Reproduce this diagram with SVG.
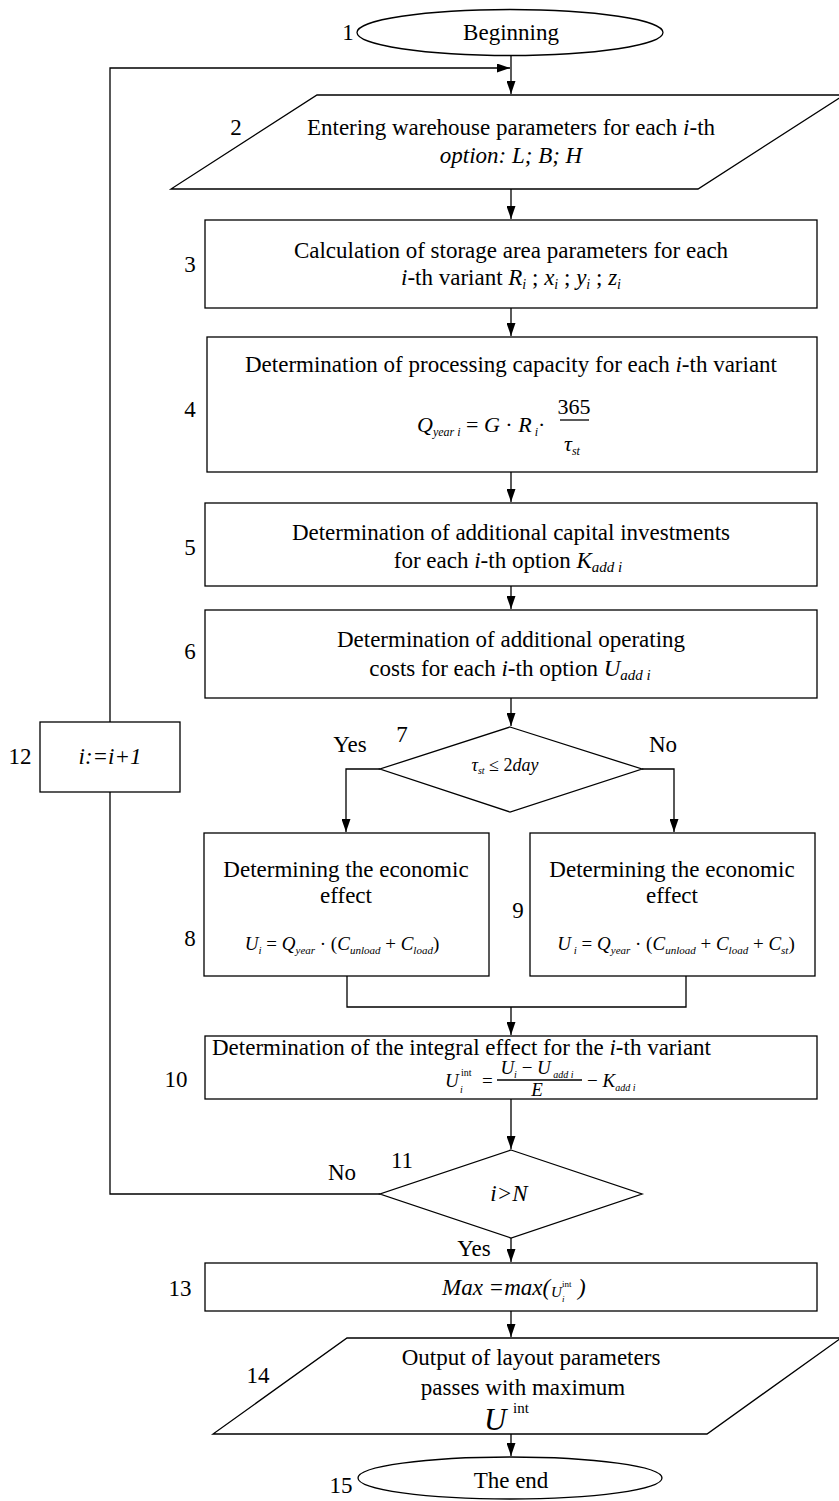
<svg xmlns="http://www.w3.org/2000/svg" width="839" height="1501" viewBox="0 0 839 1501" font-family="'Liberation Serif','Times New Roman',serif" font-size="23">
<style>
.s{fill:#fff;stroke:#000;stroke-width:1.3}
.c{fill:none;stroke:#000;stroke-width:1.3}
text{font-family:"Liberation Serif","Times New Roman",serif;fill:#000}
.m{text-anchor:middle}
.i{font-style:italic}
.f{font-style:italic}
.n{font-style:normal}
.sb{font-style:italic}
</style>
<defs>
<marker id="a" viewBox="0 0 13 9" refX="13" refY="4.5" markerWidth="13" markerHeight="9" markerUnits="userSpaceOnUse" orient="auto"><path d="M0,0 L13,4.5 L0,9 Z" fill="#000"/></marker>
</defs>
<g id="connectors">
<path class="c" d="M511,56 V94" marker-end="url(#a)"/>
<path class="c" d="M110,722 V68 H510" marker-end="url(#a)"/>
<path class="c" d="M511,189 V219" marker-end="url(#a)"/>
<path class="c" d="M511,308 V336" marker-end="url(#a)"/>
<path class="c" d="M511,472 V502" marker-end="url(#a)"/>
<path class="c" d="M511,586 V609" marker-end="url(#a)"/>
<path class="c" d="M511,698 V726" marker-end="url(#a)"/>
<path class="c" d="M380,769 H346 V832" marker-end="url(#a)"/>
<path class="c" d="M642,769 H674 V832" marker-end="url(#a)"/>
<path class="c" d="M347,976 V1007 H686 V976"/>
<path class="c" d="M511,1007 V1035" marker-end="url(#a)"/>
<path class="c" d="M511,1099 V1149" marker-end="url(#a)"/>
<path class="c" d="M380,1194 H110 V792"/>
<path class="c" d="M511,1238 V1262" marker-end="url(#a)"/>
<path class="c" d="M511,1311 V1337" marker-end="url(#a)"/>
<path class="c" d="M511,1434 V1456" marker-end="url(#a)"/>
<text x="350" y="752" class="m">Yes</text>
<text x="663" y="752" class="m">No</text>
<text x="342" y="1180" class="m">No</text>
<text x="474" y="1256" class="m">Yes</text>
</g>
<g id="n1">
<ellipse class="s" cx="510" cy="32.5" rx="153" ry="23"/>
<text x="511" y="40" class="m">Beginning</text>
<text x="348" y="40" class="m">1</text>
</g>
<g id="n2">
<polygon class="s" points="317,95 844,95 698,189 171,189"/>
<text x="236" y="135" class="m">2</text>
<text x="511" y="135" class="m">Entering warehouse parameters for each <tspan class="i">i</tspan>-th</text>
<text x="511" y="163" class="m i">option: L; B; H</text>
</g>
<g id="n3">
<rect class="s" x="205" y="220" width="612" height="88"/>
<text x="190" y="272" class="m">3</text>
<text x="511" y="258" class="m">Calculation of storage area parameters for each</text>
<text x="511" y="285" class="m"><tspan class="i">i</tspan>-th variant <tspan class="i">R</tspan><tspan dy="4" font-size="14" font-style="italic">i</tspan><tspan dy="-4"> ; </tspan><tspan class="i">x</tspan><tspan dy="4" font-size="14" font-style="italic">i</tspan><tspan dy="-4"> ; </tspan><tspan class="i">y</tspan><tspan dy="4" font-size="14" font-style="italic">i</tspan><tspan dy="-4"> ; </tspan><tspan class="i">z</tspan><tspan dy="4" font-size="14" font-style="italic">i</tspan></text>
</g>
<g id="n4">
<rect class="s" x="207" y="337" width="610" height="135"/>
<text x="190" y="417" class="m">4</text>
<text x="511" y="372" class="m">Determination of processing capacity for each <tspan class="i">i</tspan>-th variant</text>
<text x="417" y="432" class="f" font-size="22">Q<tspan font-size="12" font-style="italic" dy="4">year i</tspan><tspan dy="-4" class="n"> = </tspan>G<tspan class="n"> · </tspan>R<tspan font-size="12" font-style="italic" dy="4"> i</tspan><tspan dy="-4" class="n">·</tspan></text>
<text x="574" y="414" class="m" font-size="22">365</text>
<line class="c" x1="560" y1="420" x2="589" y2="420" stroke-width="1"/>
<text x="564" y="451" class="f" font-size="22">τ<tspan font-size="12" dy="4">st</tspan></text>
</g>
<g id="n5">
<rect class="s" x="205" y="503" width="612" height="83"/>
<text x="190" y="555" class="m">5</text>
<text x="511" y="540" class="m">Determination of additional capital investments</text>
<text x="508" y="568" class="m">for each <tspan class="i">i</tspan>-th option <tspan class="i">K</tspan><tspan dy="4" font-size="15" font-style="italic">add i</tspan></text>
</g>
<g id="n6">
<rect class="s" x="205" y="610" width="612" height="88"/>
<text x="190" y="659" class="m">6</text>
<text x="511" y="647" class="m">Determination of additional operating</text>
<text x="510" y="676" class="m">costs for each <tspan class="i">i</tspan>-th option <tspan class="i">U</tspan><tspan dy="4" font-size="15" font-style="italic">add i</tspan></text>
</g>
<g id="n7">
<polygon class="s" points="510,727 642,769 510,812 380,769"/>
<text x="402" y="742" class="m">7</text>
<text x="505" y="771" class="m f" font-size="18">τ<tspan font-size="10" dy="3">st</tspan><tspan dy="-3" class="n"> ≤ 2</tspan>day</text>
</g>
<g id="n12">
<rect class="s" x="40" y="722" width="140" height="70"/>
<text x="20" y="764" class="m">12</text>
<text x="110" y="764" class="m i">i:=i+1</text>
</g>
<g id="n8">
<rect class="s" x="204" y="833" width="285" height="143"/>
<text x="190" y="946" class="m">8</text>
<text x="346" y="877" class="m">Determining the economic</text>
<text x="346" y="903" class="m">effect</text>
<text x="342" y="950" class="m f" font-size="19">U<tspan font-size="11" dy="4">i</tspan><tspan dy="-4" class="n"> = </tspan>Q<tspan font-size="11" dy="4">year</tspan><tspan dy="-4" class="n"> · (</tspan>C<tspan font-size="11" dy="4">unload</tspan><tspan dy="-4" class="n"> + </tspan>C<tspan font-size="11" dy="4">load</tspan><tspan dy="-4" class="n">)</tspan></text>
</g>
<g id="n9">
<rect class="s" x="530" y="833" width="285" height="143"/>
<text x="518" y="918" class="m">9</text>
<text x="672" y="877" class="m">Determining the economic</text>
<text x="672" y="903" class="m">effect</text>
<text x="676" y="950" class="m f" font-size="19">U<tspan font-size="11" dy="4"> i</tspan><tspan dy="-4" class="n"> = </tspan>Q<tspan font-size="11" dy="4">year</tspan><tspan dy="-4" class="n"> · (</tspan>C<tspan font-size="11" dy="4">unload</tspan><tspan dy="-4" class="n"> +  </tspan>C<tspan font-size="11" dy="4">load</tspan><tspan dy="-4" class="n">  +  </tspan>C<tspan font-size="11" dy="4">st</tspan><tspan dy="-4" class="n">)</tspan></text>
</g>
<g id="n10">
<rect class="s" x="205" y="1036" width="612" height="63"/>
<text x="176" y="1087" class="m">10</text>
<text x="212" y="1055">Determination of the integral effect for the <tspan class="i">i</tspan>-th variant</text>
<text x="445" y="1087" class="f" font-size="19">U</text>
<text x="461" y="1076" font-size="10">int</text>
<text x="460" y="1093" class="sb" font-size="10">i</text>
<text x="482" y="1087" font-size="19">=</text>
<text x="537" y="1074" class="m f" font-size="19">U<tspan font-size="10" dy="4">i</tspan><tspan dy="-4" class="n"> − </tspan>U<tspan font-size="10" dy="4"> add i</tspan></text>
<line class="c" x1="497" y1="1080" x2="582" y2="1080" stroke-width="1"/>
<text x="537" y="1096" class="m f" font-size="19">E</text>
<text x="587" y="1087" class="f" font-size="19"><tspan class="n">− </tspan>K<tspan font-size="10" dy="4">add i</tspan></text>
</g>
<g id="n11">
<polygon class="s" points="511,1150 642,1194 511,1238 380,1194"/>
<text x="402" y="1168" class="m">11</text>
<text x="509" y="1201" class="m i">i&gt;N</text>
</g>
<g id="n13">
<rect class="s" x="205" y="1263" width="612" height="48"/>
<text x="180" y="1296" class="m">13</text>
<text x="442" y="1295" class="i">Max =max(</text>
<text x="551" y="1297" class="f" font-size="15">U</text>
<text x="562" y="1287" font-size="9">int</text>
<text x="562" y="1302" class="i" font-size="9">i</text>
<text x="578" y="1295" class="i">)</text>
</g>
<g id="n14">
<polygon class="s" points="347,1338 841,1338 707,1434 213,1434"/>
<text x="258" y="1383" class="m">14</text>
<text x="531" y="1365" class="m">Output of layout parameters</text>
<text x="523" y="1395" class="m">passes with maximum</text>
<text x="484" y="1430" class="i" font-size="31">U</text>
<text x="513" y="1413" font-size="15">int</text>
</g>
<g id="n15">
<ellipse class="s" cx="510" cy="1478" rx="152" ry="21"/>
<text x="511" y="1488" class="m">The end</text>
<text x="341" y="1493" class="m">15</text>
</g>
</svg>
